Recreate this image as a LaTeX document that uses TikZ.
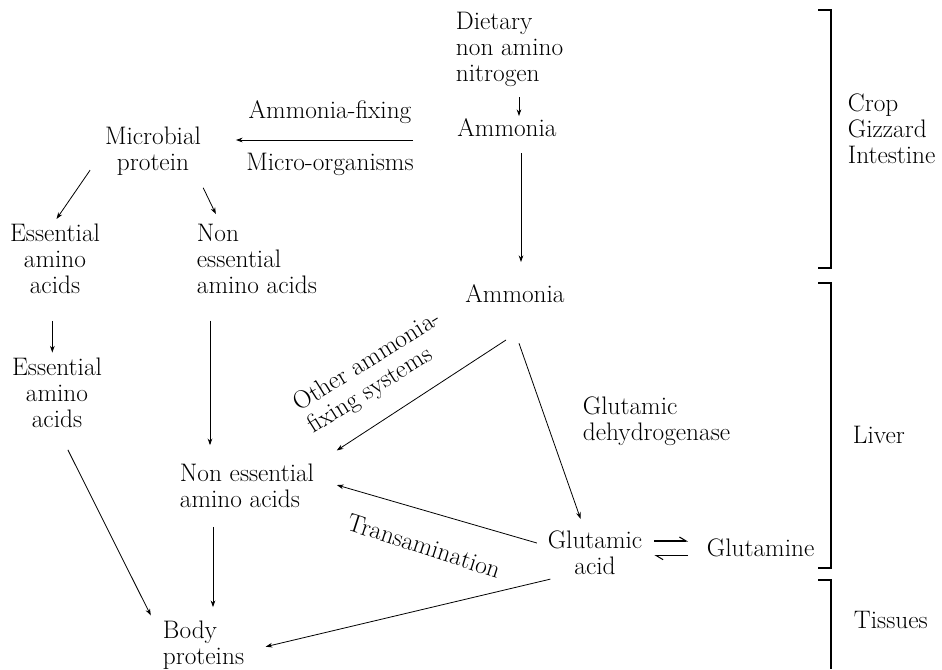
\documentclass[tikz,border=0pt]{standalone}
\usetikzlibrary{arrows.meta, positioning}

\begin{document}
\begin{tikzpicture}[
    x=0.75pt, y=-0.75pt,
    txt/.style={inner sep=2pt, font=\fontsize{19}{19.5}\selectfont, align=center},
    lefttxt/.style={txt, align=left, anchor=west},
    arrow/.style={-{Stealth[length=5pt, width=3.5pt]}, line width=0.6pt},
    harp/.style={-{Straight Barb[left, length=5pt, width=6pt]}, line width=0.8pt},
    region/.style={line width=0.9pt}
]
\useasboundingbox (0,0) rectangle (942,669);

% compounds
\node[lefttxt] (diet) at (453,49) {Dietary\\non amino\\nitrogen};
\node[txt] (amm1) at (507,128) {Ammonia};
\node[txt] (amm2) at (515,294) {Ammonia};
\node[txt] (mprot) at (153,151) {Microbial\\protein};
\node[txt] (ess1) at (55,259) {Essential\\amino\\acids};
\node[lefttxt] (ness1) at (194,259) {Non\\essential\\amino acids};
\node[txt] (ess2) at (57,393) {Essential\\amino\\acids};
\node[lefttxt] (ness2) at (177,486) {Non essential\\amino acids};
\node[lefttxt] (body) at (160,645) {Body\\proteins};
\node[txt] (glu) at (595,553) {Glutamic\\acid};
\node[lefttxt] (gln) at (704,548) {Glutamine};

% reaction labels
\node[txt] (fixing) at (330,112) {Ammonia-fixing};
\node[txt] (micro) at (330,164) {Micro-organisms};
\node[txt, align=left, anchor=west, rotate=32] (other) at (301,419) {Other ammonia-\\fixing systems};
\node[txt, rotate=-18] (trans) at (424,546) {Transamination};
\node[lefttxt] (gdh) at (580,421) {Glutamic\\dehydrogenase};

% regions
\node[lefttxt] (gut) at (845,129) {Crop\\Gizzard\\Intestine};
\node[lefttxt] (liver) at (850,435) {Liver};
\node[lefttxt] (tissue) at (851,620) {Tissues};
\draw[region] (818,10) -| (831,268) -- (818,268);
\draw[region] (818,283) -| (831,568) -- (818,568);
\draw[region] (818,580) -| (831,669);

% flows
\draw[arrow, shorten <=6pt] ([xshift=9pt]amm1.north |- diet.south) -- ([xshift=9pt]amm1.north);
\draw[arrow, shorten <=10pt, shorten >=15pt] ([xshift=10.5pt]amm1.south) -- ([xshift=10.5pt]amm1.south |- amm2.north);
\draw[arrow, shorten <=31pt, shorten >=24pt] ([yshift=-9pt]amm1.west) -- ([yshift=-9pt]amm1.west -| mprot.east);
\draw[arrow, shorten >=2pt] ([xshift=-9pt, yshift=6pt]mprot.south west) -- (ess1.north);
\draw[arrow, shorten <=8pt, shorten >=6pt] ([xshift=-4pt]mprot.south east) -- ([xshift=19pt]ness1.north west);
\draw[arrow, shorten <=18pt, shorten >=2pt] ([xshift=-2pt]ess1.south) -- ([xshift=-2pt]ess1.south |- ess2.north);
\draw[arrow, shorten <=18pt, shorten >=12pt] ([xshift=12pt]ness1.south west) -- ([xshift=12pt]ness1.south west |- ness2.north);
\draw[arrow, shorten <=16pt, shorten >=2pt] ([xshift=1pt]ess2.south) -- ([xshift=-6pt]body.north west);
\draw[arrow, shorten <=12pt, shorten >=8pt] ([xshift=27pt]ness2.south west) -- ([xshift=27pt]ness2.south west |- body.north);
\draw[arrow, shorten <=4pt, shorten >=1pt] ([xshift=8pt]glu.south west) -- ([xshift=13pt, yshift=-1.5pt]body.east);
\draw[arrow, shorten >=1pt] ([xshift=-6pt, yshift=7.5pt]glu.west) -- ([xshift=14pt, yshift=1pt]ness2.east);
\draw[arrow, shorten >=1pt] ([xshift=-6.75pt, yshift=-25.5pt]amm2.south) -- ([xshift=14pt, yshift=7.5pt]ness2.north east);
\draw[arrow, shorten >=1pt] ([xshift=3pt, yshift=-28pt]amm2.south) -- ([xshift=-10.5pt, yshift=6pt]glu.north);
\draw[harp, shorten <=7pt, shorten >=12pt] ([yshift=9pt]glu.east) -- ([yshift=9pt]glu.east -| gln.west);
\draw[harp, shorten <=12pt, shorten >=7pt] ([yshift=-2pt]glu.east -| gln.west) -- ([yshift=-2pt]glu.east);
\end{tikzpicture}
\end{document}
